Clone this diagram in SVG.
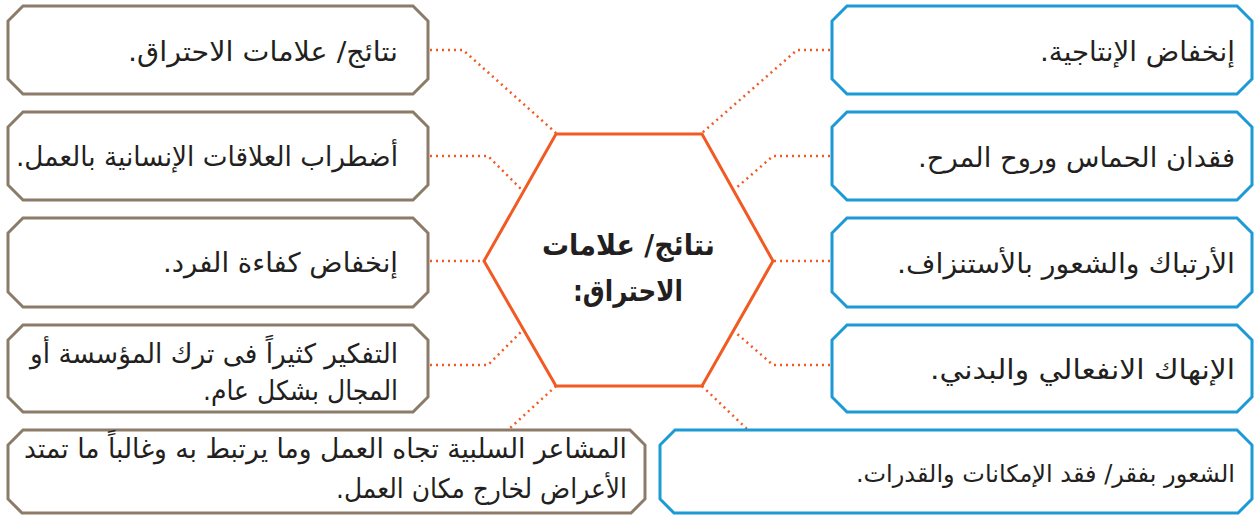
<svg xmlns="http://www.w3.org/2000/svg" width="1258" height="515" viewBox="0 0 1258 515">
<style>
.lb{fill:#fff;stroke:#8b7b68;stroke-width:3}
.rb{fill:#fff;stroke:#1b9ad6;stroke-width:3}
.hex{fill:#fff;stroke:#f15a22;stroke-width:3}
.con{fill:none;stroke:#f15a22;stroke-width:2.5;stroke-dasharray:2 4}
.t{font-family:"DejaVu Sans",sans-serif;font-size:27px;fill:#231f20}
.c{font-family:"DejaVu Sans",sans-serif;font-size:29px;font-weight:bold;fill:#231f20}
</style>
<rect width="1258" height="515" fill="#fff"/>
<g id="connectors">
<polyline class="con" points="430,50 463,50 556,133"/>
<polyline class="con" points="430,156 488,156 521,189"/>
<polyline class="con" points="430,261 483,261"/>
<polyline class="con" points="430,365 488,365 521,332"/>
<polyline class="con" points="556,386 508,430"/>
<polyline class="con" points="830,50 797,50 702,133"/>
<polyline class="con" points="830,156 773,156 735,189"/>
<polyline class="con" points="830,261 773,261"/>
<polyline class="con" points="830,365 773,365 735,332"/>
<polyline class="con" points="702,386 748,430"/>
</g>
<g id="center">
<polygon class="hex" points="556,134 702,134 773,261 702,386 556,386 484,261"/>
<text class="c" x="715" y="255" direction="rtl" textLength="173" lengthAdjust="spacingAndGlyphs">نتائج/ علامات</text>
<text class="c" x="683" y="301" direction="rtl" textLength="110" lengthAdjust="spacingAndGlyphs">الاحتراق:</text>
</g>
<g id="l1">
<polygon class="lb" points="23,6 413,6 428,21 428,79 413,94 23,94 8,79 8,21"/>
<text class="t" x="398" y="61" direction="rtl" textLength="270" lengthAdjust="spacingAndGlyphs">نتائج/ علامات الاحتراق.</text>
</g>
<g id="l2">
<polygon class="lb" points="23,112 413,112 428,127 428,185 413,200 23,200 8,185 8,127"/>
<text class="t" x="398" y="166" direction="rtl" textLength="382" lengthAdjust="spacingAndGlyphs">أضطراب العلاقات الإنسانية بالعمل.</text>
</g>
<g id="l3">
<polygon class="lb" points="23,218 413,218 428,233 428,292 413,307 23,307 8,292 8,233"/>
<text class="t" x="398" y="272" direction="rtl" textLength="235" lengthAdjust="spacingAndGlyphs">إنخفاض كفاءة الفرد.</text>
</g>
<g id="l4">
<polygon class="lb" points="23,325 413,325 428,340 428,397 413,412 23,412 8,397 8,340"/>
<text class="t" x="398" y="363" direction="rtl" textLength="368" lengthAdjust="spacingAndGlyphs">التفكير كثيراً فى ترك المؤسسة أو</text>
<text class="t" x="398" y="400" direction="rtl" textLength="195" lengthAdjust="spacingAndGlyphs">المجال بشكل عام.</text>
</g>
<g id="l5">
<polygon class="lb" points="23,430 630,430 645,445 645,499 631,513 22,513 8,499 8,445"/>
<text class="t" x="627" y="458" direction="rtl" textLength="603" lengthAdjust="spacingAndGlyphs">المشاعر السلبية تجاه العمل وما يرتبط به وغالباً ما تمتد</text>
<text class="t" x="627" y="498" direction="rtl" textLength="291" lengthAdjust="spacingAndGlyphs">الأعراض لخارج مكان العمل.</text>
</g>
<g id="r1">
<polygon class="rb" points="847,6 1237,6 1252,21 1252,79 1237,94 847,94 832,79 832,21"/>
<text class="t" x="1235" y="61" direction="rtl" textLength="195" lengthAdjust="spacingAndGlyphs">إنخفاض الإنتاجية.</text>
</g>
<g id="r2">
<polygon class="rb" points="847,112 1237,112 1252,127 1252,185 1237,200 847,200 832,185 832,127"/>
<text class="t" x="1235" y="167" direction="rtl" textLength="317" lengthAdjust="spacingAndGlyphs">فقدان الحماس وروح المرح.</text>
</g>
<g id="r3">
<polygon class="rb" points="847,218 1237,218 1252,233 1252,292 1237,307 847,307 832,292 832,233"/>
<text class="t" x="1235" y="273" direction="rtl" textLength="338" lengthAdjust="spacingAndGlyphs">الأرتباك والشعور بالأستنزاف.</text>
</g>
<g id="r4">
<polygon class="rb" points="847,325 1237,325 1252,340 1252,397 1237,412 847,412 832,397 832,340"/>
<text class="t" x="1235" y="379" direction="rtl" textLength="305" lengthAdjust="spacingAndGlyphs">الإنهاك الانفعالي والبدني.</text>
</g>
<g id="r5">
<polygon class="rb" points="675,430 1237,430 1252,445 1252,499 1238,513 674,513 660,499 660,445"/>
<text class="t" x="1235" y="482" direction="rtl" style="font-size:24px">الشعور بفقر/ فقد الإمكانات والقدرات.</text>
</g>
</svg>
